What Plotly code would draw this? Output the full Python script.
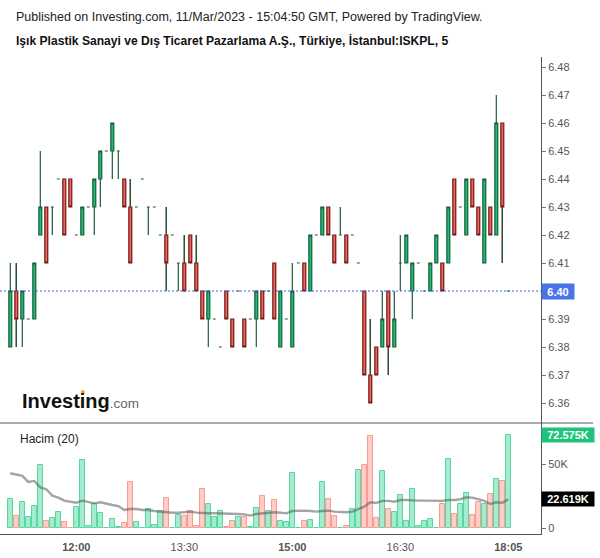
import plotly.graph_objects as go

# ---------------- data ----------------
open_ = [6.38, 6.40, 6.39, 6.39, 6.39, 6.42, 6.43, 6.43, 6.44, 6.44,
         6.44, 6.42, 6.42, 6.43, 6.43, 6.44, 6.45, 6.45, 6.45, 6.44,
         6.43, 6.43, 6.44, 6.43, 6.43, 6.42, 6.42, 6.42, 6.41, 6.41,
         6.42, 6.41, 6.40, 6.39, 6.39, 6.38, 6.40, 6.39, 6.40, 6.39,
         6.39, 6.39, 6.40, 6.40, 6.41, 6.38, 6.39, 6.38, 6.41, 6.41,
         6.40, 6.42, 6.42, 6.43, 6.42, 6.42, 6.42, 6.42, 6.41, 6.40,
         6.37, 6.38, 6.38, 6.40, 6.38, 6.41, 6.41, 6.40, 6.41, 6.40,
         6.40, 6.41, 6.41, 6.41, 6.44, 6.43, 6.42, 6.44, 6.43, 6.41,
         6.43, 6.42, 6.46, 6.40]
high = [6.41, 6.41, 6.40, 6.39, 6.41, 6.45, 6.43, 6.43, 6.44, 6.44,
        6.44, 6.42, 6.43, 6.43, 6.44, 6.45, 6.45, 6.46, 6.45, 6.44,
        6.44, 6.43, 6.44, 6.43, 6.43, 6.42, 6.43, 6.42, 6.41, 6.42,
        6.42, 6.42, 6.40, 6.40, 6.39, 6.38, 6.40, 6.39, 6.40, 6.39,
        6.39, 6.40, 6.40, 6.40, 6.41, 6.40, 6.39, 6.41, 6.41, 6.41,
        6.42, 6.42, 6.43, 6.43, 6.42, 6.43, 6.42, 6.42, 6.41, 6.40,
        6.39, 6.38, 6.40, 6.40, 6.40, 6.42, 6.42, 6.41, 6.41, 6.40,
        6.41, 6.42, 6.41, 6.43, 6.44, 6.43, 6.44, 6.44, 6.43, 6.44,
        6.43, 6.47, 6.46, 6.40]
low = [6.38, 6.38, 6.38, 6.39, 6.39, 6.42, 6.41, 6.42, 6.44, 6.42,
       6.43, 6.42, 6.42, 6.43, 6.42, 6.43, 6.45, 6.44, 6.44, 6.43,
       6.41, 6.43, 6.44, 6.42, 6.43, 6.42, 6.40, 6.42, 6.40, 6.40,
       6.41, 6.40, 6.39, 6.38, 6.39, 6.38, 6.39, 6.38, 6.40, 6.38,
       6.39, 6.38, 6.39, 6.40, 6.39, 6.38, 6.39, 6.38, 6.41, 6.40,
       6.40, 6.42, 6.42, 6.42, 6.41, 6.42, 6.41, 6.42, 6.41, 6.37,
       6.36, 6.37, 6.38, 6.37, 6.38, 6.40, 6.41, 6.39, 6.41, 6.40,
       6.40, 6.41, 6.40, 6.41, 6.42, 6.43, 6.42, 6.43, 6.42, 6.41,
       6.42, 6.42, 6.41, 6.40]
close = [6.40, 6.39, 6.40, 6.39, 6.41, 6.43, 6.41, 6.43, 6.44, 6.42,
         6.43, 6.42, 6.43, 6.43, 6.44, 6.45, 6.45, 6.46, 6.45, 6.43,
         6.41, 6.43, 6.44, 6.43, 6.43, 6.42, 6.41, 6.42, 6.41, 6.40,
         6.41, 6.40, 6.39, 6.40, 6.39, 6.38, 6.39, 6.38, 6.40, 6.38,
         6.39, 6.40, 6.39, 6.40, 6.39, 6.40, 6.39, 6.40, 6.41, 6.40,
         6.42, 6.42, 6.43, 6.42, 6.41, 6.42, 6.41, 6.42, 6.41, 6.37,
         6.36, 6.37, 6.39, 6.38, 6.39, 6.41, 6.42, 6.41, 6.41, 6.40,
         6.41, 6.42, 6.40, 6.43, 6.42, 6.43, 6.44, 6.43, 6.42, 6.44,
         6.42, 6.46, 6.43, 6.40]
# volume in thousands
volume_k = [22.9, 9.4, 20.6, 8.6, 17.2, 49.5, 5.7, 7.8, 12.5, 4.7,
            0.3, 16.4, 53.0, 1.8, 19.3, 12.0, 0.3, 7.0, 1.0, 3.9,
            36.0, 4.7, 0.3, 14.8, 2.3, 13.3, 23.4, 0.3, 10.2, 9.4,
            13.5, 1.8, 30.5, 19.0, 8.6, 13.5, 1.0, 5.7, 8.6, 8.6,
            1.0, 15.6, 25.0, 13.5, 21.9, 5.7, 4.7, 43.0, 0.3, 5.5,
            6.3, 0.3, 36.0, 22.7, 9.4, 0.3, 1.6, 14.8, 45.3, 49.5,
            72.0, 7.8, 44.5, 14.8, 12.5, 25.8, 5.7, 30.5, 1.6, 5.7,
            7.0, 0.3, 19.0, 54.0, 11.0, 19.0, 27.3, 10.2, 20.3, 19.0,
            26.6, 38.3, 36.7, 72.575]
# 20-period volume moving average (thousands)
vol_ma_k = [43.0, 42.2, 40.9, 36.2, 37.0, 32.0, 30.5, 25.5, 24.0, 21.6,
            20.8, 20.0, 21.6, 20.3, 19.5, 20.3, 19.0, 18.2, 17.4, 14.3,
            15.1, 15.1, 14.3, 14.3, 13.5, 13.0, 13.0, 12.2, 12.2, 12.5,
            13.0, 12.2, 11.7, 11.7, 11.7, 11.7, 11.2, 11.2, 11.2, 10.9,
            9.9, 11.2, 11.7, 12.2, 12.5, 12.2, 11.7, 13.5, 13.8, 13.8,
            13.5, 13.0, 13.5, 13.8, 13.0, 12.5, 12.5, 13.0, 15.1, 16.9,
            20.3, 19.8, 21.4, 21.4, 20.8, 22.1, 22.1, 21.6, 21.6, 21.6,
            21.6, 21.4, 21.4, 22.1, 22.1, 22.7, 24.2, 24.0, 22.7, 21.4,
            19.0, 20.3, 20.0, 22.619]
tick_idx = [11, 29, 47, 65, 83]
tick_labels = ["<b>12:00</b>", "13:30", "<b>15:00</b>", "16:30", "<b>18:05</b>"]
price_ticks = [6.36, 6.37, 6.38, 6.39, 6.40, 6.41, 6.42, 6.43, 6.44, 6.45, 6.46, 6.47, 6.48]

# ---------------- styling ----------------
W, H = 600, 558
FONT = "Arial, 'Liberation Sans', sans-serif"
G_FILL, G_LINE = "#13c377", "#1e5a38"
R_FILL, R_LINE = "#f7635b", "#6c1a15"
WICK = "#1e5a38"

def px(x):
    return x / W

def py(y):
    return 1 - y / H

n = len(close)
idx = list(range(n))
up = [i for i in idx if close[i] >= open_[i]]
dn = [i for i in idx if close[i] < open_[i]]

fig = go.Figure()

def cs(ids, fill, line, name):
    return go.Candlestick(
        x=ids, open=[open_[i] for i in ids], high=[high[i] for i in ids],
        low=[low[i] for i in ids], close=[close[i] for i in ids],
        increasing=dict(fillcolor=fill, line=dict(color=line, width=1.2)),
        decreasing=dict(fillcolor=fill, line=dict(color=line, width=1.2)),
        whiskerwidth=0, name=name, showlegend=False, hoverinfo="skip",
        xaxis="x", yaxis="y")

fig.add_trace(cs(up, G_FILL, G_LINE, "up"))
fig.add_trace(cs(dn, R_FILL, R_LINE, "down"))

# wicks of down candles drawn in the dark green wick color
wx, wy = [], []
for i in dn:
    top, bot = max(open_[i], close[i]), min(open_[i], close[i])
    if high[i] > top:
        wx += [i, i, None]; wy += [high[i], top, None]
    if low[i] < bot:
        wx += [i, i, None]; wy += [bot, low[i], None]
fig.add_trace(go.Scatter(x=wx, y=wy, mode="lines", line=dict(color=WICK, width=1.2),
                         showlegend=False, hoverinfo="skip", xaxis="x", yaxis="y"))

# volume
vcol = ["rgba(38,208,140,0.42)" if close[i] >= open_[i] else "rgba(255,120,110,0.38)" for i in idx]
vline = ["#58d79e" if close[i] >= open_[i] else "#f59c95" for i in idx]
fig.add_trace(go.Bar(x=idx, y=volume_k, marker=dict(color=vcol, line=dict(color=vline, width=1)),
                     width=0.82, showlegend=False, hoverinfo="skip", xaxis="x2", yaxis="y2"))
fig.add_trace(go.Scatter(x=idx, y=vol_ma_k, mode="lines",
                         line=dict(color="rgba(90,90,90,0.55)", width=2.4),
                         showlegend=False, hoverinfo="skip", xaxis="x2", yaxis="y2"))

# ---------------- axes ----------------
x_left_px, plot_right_px = 0, 541
first_px, step_px = 10.3, 6.0
xr = [-(first_px - x_left_px) / step_px, (plot_right_px - first_px) / step_px]

price_top_px, price_bot_px = 57, 423
vol_top_px, vol_bot_px = 423, 534
p_ref_px, p_ref = 67, 6.48
p_scale = 2800.0  # px per unit
yr_price = [p_ref - (price_bot_px - p_ref_px) / p_scale, p_ref + (p_ref_px - price_top_px) / p_scale]
v0_px, v_scale = 528.3, 1.28  # px per K
yr_vol = [-(vol_bot_px - v0_px) / v_scale, (v0_px - vol_top_px) / v_scale]

axis_font = dict(family=FONT, size=11, color="#555")

fig.update_layout(
    width=W, height=H, margin=dict(l=0, r=0, t=0, b=0),
    paper_bgcolor="white", plot_bgcolor="white",
    showlegend=False, bargap=0, hovermode=False,
    xaxis=dict(domain=[0, px(plot_right_px)], range=xr, showgrid=False, zeroline=False,
               showticklabels=False, rangeslider=dict(visible=False), anchor="y",
               fixedrange=True),
    yaxis=dict(domain=[py(price_bot_px), py(price_top_px)], range=yr_price, side="right",
               showgrid=False, zeroline=False, showline=True, linecolor="#555", linewidth=1,
               ticks="outside", ticklen=4, tickcolor="#777", tickvals=price_ticks,
               tickformat=".2f", tickfont=axis_font, anchor="x"),
    xaxis2=dict(domain=[0, px(plot_right_px)], range=xr, showgrid=False, zeroline=False,
                showline=True, linecolor="#555", linewidth=1, ticks="",
                tickvals=tick_idx, ticktext=tick_labels, tickfont=axis_font,
                ticklabelstandoff=3, anchor="y2"),
    yaxis2=dict(domain=[py(vol_bot_px), py(vol_top_px)], range=yr_vol, side="right",
                showgrid=False, zeroline=False, showline=True, linecolor="#555", linewidth=1,
                ticks="outside", ticklen=4, tickcolor="#777", tickvals=[0, 50],
                ticktext=["0", "50K"], tickfont=axis_font, anchor="x2"),
)

last_close = close[-1]
shapes = [
    # last price dotted line
    dict(type="line", xref="paper", yref="y", x0=0, x1=px(plot_right_px), y0=last_close, y1=last_close,
         line=dict(color="#3e66dc", width=1, dash="2px,2px")),
    # pane separator
    dict(type="line", xref="paper", yref="paper", x0=0, x1=px(593), y0=py(vol_top_px), y1=py(vol_top_px),
         line=dict(color="#555", width=1)),
    # logo dot
    dict(type="circle", xref="paper", yref="paper", x0=px(80.8), x1=px(84.8), y0=py(394), y1=py(390),
         fillcolor="#f5a623", line=dict(width=0)),
]
fig.update_layout(shapes=shapes)

ann = [
    dict(text="Published on Investing.com, 11/Mar/2023 - 15:04:50 GMT, Powered by TradingView.",
         x=px(14), y=py(17), xref="paper", yref="paper", xanchor="left", yanchor="middle",
         showarrow=False, font=dict(family=FONT, size=12.5, color="#222")),
    dict(text="<b>Işık Plastik Sanayi ve Dış Ticaret Pazarlama A.Ş., Türkiye, İstanbul:ISKPL, 5</b>",
         x=px(14), y=py(40), xref="paper", yref="paper", xanchor="left", yanchor="middle",
         showarrow=False, font=dict(family=FONT, size=12.1, color="#111")),
    dict(text="Hacim (20)", x=px(18), y=py(439), xref="paper", yref="paper", xanchor="left",
         yanchor="middle", showarrow=False, font=dict(family=FONT, size=12, color="#222")),
    dict(text="<b>Investing</b><span style='font-size:13.5px;color:#666'>.com</span>",
         x=px(20), y=py(401), xref="paper", yref="paper", xanchor="left", yanchor="middle",
         showarrow=False, font=dict(family=FONT, size=20, color="#111")),
    # last price label
    dict(text="<b>%.2f</b>" % last_close, x=px(541), y=last_close, xref="paper", yref="y",
         xanchor="left", yanchor="middle", showarrow=False, bgcolor="#4a74e6",
         width=28, height=11, borderpad=2, font=dict(family=FONT, size=11, color="white")),
    # last volume label
    dict(text="<b>%.3fK</b>" % volume_k[-1], x=px(541), y=volume_k[-1], xref="paper", yref="y2",
         xanchor="left", yanchor="middle", showarrow=False, bgcolor="#1fc47c",
         width=48, height=10, borderpad=2, font=dict(family=FONT, size=11, color="white")),
    # MA label
    dict(text="<b>%.3fK</b>" % vol_ma_k[-1], x=px(541), y=vol_ma_k[-1], xref="paper", yref="y2",
         xanchor="left", yanchor="middle", showarrow=False, bgcolor="#000",
         width=48, height=10, borderpad=2, font=dict(family=FONT, size=11, color="white")),
]
fig.update_layout(annotations=ann)

fig.write_html("out.html")
